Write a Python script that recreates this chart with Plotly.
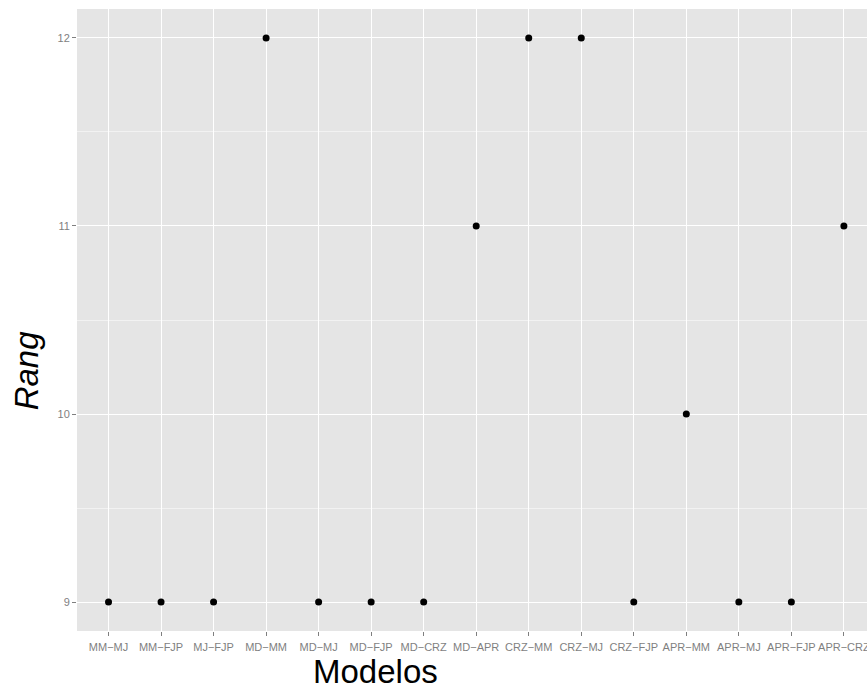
import plotly.graph_objects as go

categories = ["MM−MJ", "MM−FJP", "MJ−FJP", "MD−MM", "MD−MJ", "MD−FJP", "MD−CRZ",
              "MD−APR", "CRZ−MM", "CRZ−MJ", "CRZ−FJP", "APR−MM", "APR−MJ", "APR−FJP", "APR−CRZ"]
rang = [9, 9, 9, 12, 9, 9, 9, 11, 12, 12, 9, 10, 9, 9, 11]
y_ticks = [9, 10, 11, 12]

W, H = 867, 691
L, R, T, B = 76.5, 0, 8.5, 60
pw = W - L - R
ph = H - T - B

fig = go.Figure(go.Scatter(
    x=categories, y=rang, mode="markers",
    marker=dict(color="black", size=7),
    hoverinfo="x+y", showlegend=False))

grey50 = "#7f7f7f"
fig.update_layout(
    width=W, height=H,
    margin=dict(l=L, r=R, t=T, b=B, pad=0),
    paper_bgcolor="white", plot_bgcolor="#E5E5E5",
    font=dict(family="Liberation Sans, Arial, sans-serif"),
    xaxis=dict(type="category", range=[-0.6, 14.44], automargin=False,
               showgrid=True, gridcolor="white", gridwidth=1.3,
               zeroline=False, showline=False,
               ticks="outside", ticklen=4, tickwidth=1, tickcolor=grey50,
               tickfont=dict(size=11, color=grey50), ticklabelstandoff=2),
    yaxis=dict(range=[8.846, 12.154], tickvals=y_ticks, automargin=False,
               showgrid=True, gridcolor="white", gridwidth=1.3,
               minor=dict(tickvals=[9.5, 10.5, 11.5], showgrid=True,
                          gridcolor="#F2F2F2", gridwidth=0.6, ticks=""),
               zeroline=False, showline=False,
               ticks="outside", ticklen=4, tickwidth=1, tickcolor=grey50,
               tickfont=dict(size=11, color=grey50)),
    annotations=[
        dict(text="Modelos", xref="paper", yref="paper",
             x=(375 - L) / pw, y=(T + ph - 671.6) / ph,
             xanchor="center", yanchor="middle", showarrow=False,
             font=dict(size=33, color="black")),
        dict(text="Rang", xref="paper", yref="paper", textangle=-90,
             x=(25.6 - L) / pw, y=(T + ph - 370) / ph,
             xanchor="center", yanchor="middle", showarrow=False,
             font=dict(size=33, color="black", style="italic")),
    ],
)

fig.write_html("out.html",
               config={"displayModeBar": False},
               post_script="document.body.style.margin='0';"
                           "document.body.style.overflow='hidden';")
